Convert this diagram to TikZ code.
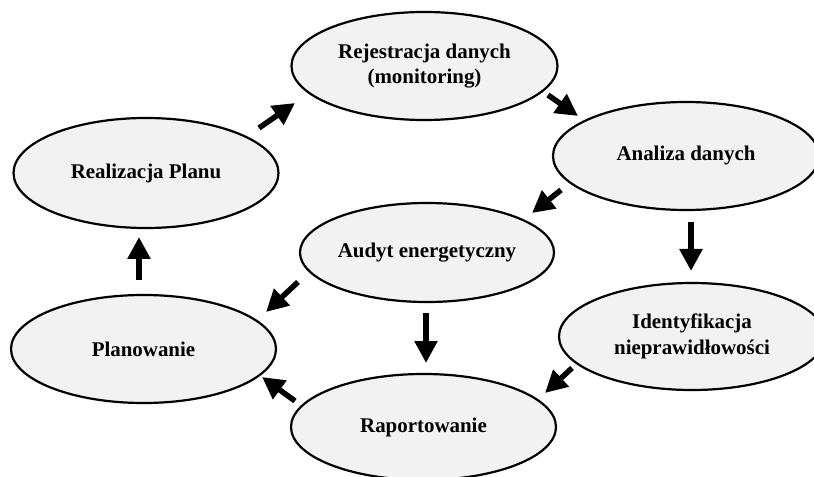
\documentclass[tikz,border=0pt]{standalone}
\usepackage{fontspec}
\setmainfont{Liberation Serif}
\usetikzlibrary{shapes.geometric,arrows.meta}
\tikzset{
  stage/.style={ellipse, draw=black, line width=2.2bp, fill=black!5, inner sep=0pt,
    align=center, font=\fontsize{21}{25.5}\selectfont\bfseries},
  flow/.style={line width=5.5bp, -{Triangle[length=22bp,width=22bp]}}
}
\begin{document}
\begin{tikzpicture}[x=1bp,y=-1bp]
\useasboundingbox (0,0) rectangle (814,477);
\node[stage, minimum width=266bp, minimum height=108bp] (rej) at (424.5,66) {\raisebox{4bp}{\begin{tabular}{@{}c@{}}Rejestracja danych\\(monitoring)\end{tabular}}};
\node[stage, minimum width=265bp, minimum height=110bp] (real) at (146,173) {Realizacja Planu};
\node[stage, minimum width=266bp, minimum height=108bp] (ana) at (686,156) {Analiza danych};
\node[stage, minimum width=254bp, minimum height=99bp] (aud) at (427,252.5) {Audyt energetyczny};
\node[stage, minimum width=265bp, minimum height=108bp] (plan) at (143.5,349) {Planowanie};
\node[stage, minimum width=266bp, minimum height=107bp] (ident) at (692,336.5) {Identyfikacja\\nieprawidłowości};
\node[stage, minimum width=265bp, minimum height=106bp] (rap) at (423.5,427) {Raportowanie};

\coordinate (a1s) at (259,128); \coordinate (a1e) at (295,103);
\coordinate (a2s) at (548,95);  \coordinate (a2e) at (578,116);
\coordinate (a3s) at (561,190); \coordinate (a3e) at (532,213);
\coordinate (a4s) at (691,222); \coordinate (a4e) at (691,271);
\coordinate (a5s) at (298,282); \coordinate (a5e) at (266,312);
\coordinate (a6s) at (426,313); \coordinate (a6e) at (426,363);
\coordinate (a7s) at (572,368); \coordinate (a7e) at (545,393);
\coordinate (a8s) at (295,401); \coordinate (a8e) at (262,377);
\coordinate (a9s) at (139,280); \coordinate (a9e) at (139,237);

\draw[flow] (a1s) -- (a1e);
\draw[flow] (a2s) -- (a2e);
\draw[flow] (a3s) -- (a3e);
\draw[flow] (a4s) -- (a4e);
\draw[flow] (a5s) -- (a5e);
\draw[flow] (a6s) -- (a6e);
\draw[flow] (a7s) -- (a7e);
\draw[flow] (a8s) -- (a8e);
\draw[flow] (a9s) -- (a9e);
\end{tikzpicture}
\end{document}
